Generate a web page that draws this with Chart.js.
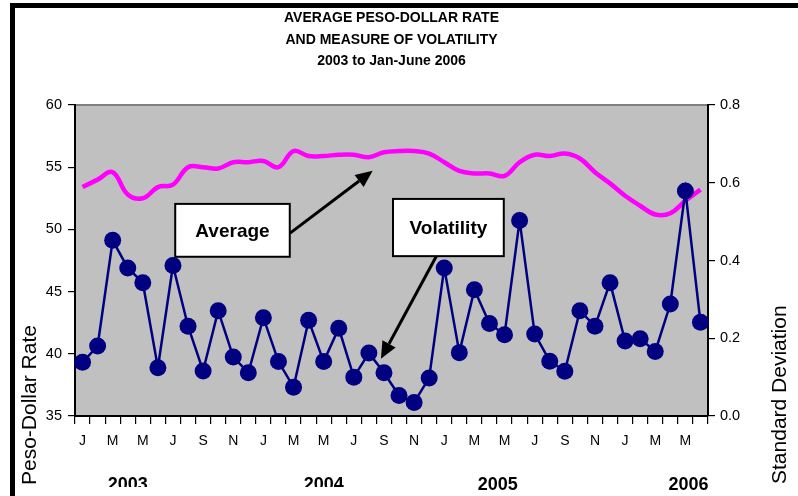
<!DOCTYPE html>
<html>
<head>
<meta charset="utf-8">
<script src="https://cdn.jsdelivr.net/npm/chart.js@4/dist/chart.umd.min.js"></script>
<style>
  html, body { margin: 0; padding: 0; background: #fff; overflow: hidden; }
  #wrap { position: relative; width: 798px; height: 496px; }
</style>
</head>
<body>
<div id="wrap"><canvas id="chart" width="798" height="496"></canvas></div>
<script>
// Month initials, January 2003 through June 2006
const monthLetters = ['J', 'F', 'M', 'A', 'M', 'J', 'J', 'A', 'S', 'O', 'N', 'D'];
const months = [...monthLetters, ...monthLetters, ...monthLetters, ...monthLetters.slice(0, 6)];

// Monthly average peso-dollar rate (left axis)
const averageRate = [
  53.4, 54.0, 54.6, 52.8, 52.5, 53.4, 53.6, 55.0, 55.0, 54.9, 55.4, 55.4,
  55.5, 55.0, 56.3, 55.9, 55.9, 56.0, 56.0, 55.8, 56.2, 56.3, 56.3, 56.1,
  55.4, 54.7, 54.5, 54.5, 54.3, 55.4, 56.0, 55.9, 56.1, 55.7, 54.6, 53.7,
  52.7, 51.9, 51.2, 51.3, 52.3, 53.2
];

// Monthly standard deviation of the rate (right axis)
const volatility = [
  0.138, 0.180, 0.452, 0.381, 0.343, 0.124, 0.387, 0.231, 0.116, 0.271, 0.152, 0.111,
  0.253, 0.140, 0.074, 0.246, 0.140, 0.226, 0.100, 0.162, 0.111, 0.053, 0.035, 0.098,
  0.381, 0.163, 0.325, 0.238, 0.209, 0.503, 0.211, 0.141, 0.115, 0.271, 0.231, 0.343,
  0.193, 0.199, 0.166, 0.288, 0.579, 0.241
];

const years = ['2003', '2004', '2005', '2006'];
const leftTicks = [35, 40, 45, 50, 55, 60];
const rightTicks = [0, 0.2, 0.4, 0.6, 0.8];
const titleLines = ['AVERAGE PESO-DOLLAR RATE', 'AND MEASURE OF VOLATILITY', '2003 to Jan-June 2006'];

const FONT = '"Liberation Sans", Arial, Helvetica, sans-serif';

// Where the year captions sit (month index) and whether their lower part is hidden
const yearPlacement = [
  { at: 3.0, cut: true },
  { at: 16.0, cut: true },
  { at: 27.55, cut: false },
  { at: 40.2, cut: false }
];

// Callout boxes and arrows, in (month index, left-axis value) coordinates
const callouts = [
  { text: 'Average', box: [6.15, 52.05, 13.75, 47.8], from: [13.77, 49.7], to: [19.25, 54.72] },
  { text: 'Volatility', box: [20.6, 52.45, 27.95, 47.85], from: [23.5, 47.9], to: [19.8, 39.6] }
];

const backdrop = {
  id: 'backdrop',
  beforeDraw(chart) {
    const { ctx, chartArea: a, width, height } = chart;
    ctx.save();
    ctx.fillStyle = '#ffffff';
    ctx.fillRect(0, 0, width, height);
    ctx.fillStyle = '#c0c0c0';
    ctx.fillRect(a.left, a.top, a.right - a.left, a.bottom - a.top);
    ctx.strokeStyle = '#808080';
    ctx.lineWidth = 2;
    ctx.beginPath();
    ctx.moveTo(a.left, a.top);
    ctx.lineTo(a.right, a.top);
    ctx.stroke();
    // outer frame
    ctx.fillStyle = '#000000';
    ctx.fillRect(10, 3, width - 10, 5);
    ctx.fillRect(10, 3, 5, height - 3);
    ctx.restore();
  }
};

const textLayer = {
  id: 'textLayer',
  afterDraw(chart) {
    const { ctx, chartArea: a, scales } = chart;
    ctx.save();
    ctx.fillStyle = '#000';
    // title
    ctx.font = 'bold 14px ' + FONT;
    ctx.textAlign = 'center';
    ctx.textBaseline = 'middle';
    const cx = (a.left + a.right) / 2;
    titleLines.forEach((t, i) => ctx.fillText(t, cx, 18.5 + i * 21.5));

    // axis titles
    ctx.font = '21px ' + FONT;
    ctx.textAlign = 'left';
    ctx.textBaseline = 'middle';
    ctx.save();
    ctx.translate(30, 485);
    ctx.rotate(-Math.PI / 2);
    ctx.fillText('Peso-Dollar Rate', 0, 0);
    ctx.restore();
    ctx.save();
    ctx.translate(780, 484);
    ctx.rotate(-Math.PI / 2);
    ctx.fillText('Standard Deviation', 0, 0);
    ctx.restore();

    // year captions
    ctx.font = 'bold 18px ' + FONT;
    ctx.textAlign = 'center';
    ctx.textBaseline = 'middle';
    years.forEach((y, i) => {
      const p = yearPlacement[i];
      const x = scales.x.getPixelForValue(p.at);
      ctx.save();
      if (p.cut) {
        ctx.beginPath();
        ctx.rect(x - 40, 460, 80, 27);
        ctx.clip();
      }
      ctx.fillText(y, x, 485);
      ctx.restore();
    });
    ctx.restore();
  }
};

const calloutLayer = {
  id: 'calloutLayer',
  afterDatasetsDraw(chart) {
    const { ctx, scales } = chart;
    const px = v => scales.x.getPixelForValue(v);
    const py = v => scales.y.getPixelForValue(v);
    ctx.save();
    callouts.forEach(c => {
      const x0 = px(c.from[0]), y0 = py(c.from[1]);
      const x1 = px(c.to[0]), y1 = py(c.to[1]);
      const ang = Math.atan2(y1 - y0, x1 - x0);
      const headLen = 17, headHalf = 7.5;
      const bx = x1 - headLen * Math.cos(ang), by = y1 - headLen * Math.sin(ang);
      ctx.strokeStyle = '#000';
      ctx.lineWidth = 3;
      ctx.beginPath();
      ctx.moveTo(x0, y0);
      ctx.lineTo(bx, by);
      ctx.stroke();
      ctx.fillStyle = '#000';
      ctx.beginPath();
      ctx.moveTo(x1, y1);
      ctx.lineTo(bx + headHalf * Math.sin(ang), by - headHalf * Math.cos(ang));
      ctx.lineTo(bx - headHalf * Math.sin(ang), by + headHalf * Math.cos(ang));
      ctx.closePath();
      ctx.fill();

      const l = px(c.box[0]), t = py(c.box[1]), r = px(c.box[2]), b = py(c.box[3]);
      ctx.fillStyle = '#fff';
      ctx.fillRect(l, t, r - l, b - t);
      ctx.lineWidth = 2;
      ctx.strokeRect(l, t, r - l, b - t);
      ctx.fillStyle = '#000';
      ctx.font = 'bold 19px ' + FONT;
      ctx.textAlign = 'center';
      ctx.textBaseline = 'middle';
      ctx.fillText(c.text, (l + r) / 2, (t + b) / 2 + 1);
    });
    ctx.restore();
  }
};

new Chart(document.getElementById('chart'), {
  type: 'line',
  data: {
    labels: months,
    datasets: [
      {
        label: 'Volatility',
        data: volatility,
        yAxisID: 'y1',
        borderColor: '#000080',
        backgroundColor: '#000080',
        borderWidth: 2.5,
        pointRadius: 8.5,
        pointHoverRadius: 8.5,
        pointBackgroundColor: '#000080',
        pointBorderColor: '#000080',
        pointBorderWidth: 0,
        tension: 0,
        clip: false,
        order: 0
      },
      {
        label: 'Average',
        data: averageRate,
        yAxisID: 'y',
        borderColor: '#ff00ff',
        borderWidth: 4.5,
        pointRadius: 0,
        pointHoverRadius: 0,
        tension: 0.4,
        fill: false,
        order: 1
      }
    ]
  },
  options: {
    responsive: false,
    animation: false,
    events: [],
    layout: { padding: { top: 105, left: 0, right: 0, bottom: 0 } },
    plugins: {
      legend: { display: false },
      tooltip: { enabled: false },
      title: { display: false }
    },
    scales: {
      x: {
        offset: true,
        grid: { offset: true, drawOnChartArea: false, drawTicks: true, tickLength: 8, color: '#000', lineWidth: 1.2 },
        border: { color: '#000', width: 2 },
        ticks: {
          autoSkip: false,
          maxRotation: 0,
          color: '#000',
          padding: 9,
          font: { family: FONT, size: 14 },
          callback: (v, i) => (i % 2 === 0 ? months[i] : '')
        },
        afterFit: s => { s.height = 80; }
      },
      y: {
        position: 'left',
        min: leftTicks[0],
        max: leftTicks[leftTicks.length - 1],
        afterBuildTicks: s => { s.ticks = leftTicks.map(v => ({ value: v })); },
        grid: { drawOnChartArea: false, drawTicks: true, tickLength: 7, color: '#000', lineWidth: 1.2 },
        border: { color: '#000', width: 2 },
        ticks: { color: '#000', padding: 6, font: { family: FONT, size: 14.5 } },
        afterFit: s => { s.width = 75; }
      },
      y1: {
        position: 'right',
        min: rightTicks[0],
        max: rightTicks[rightTicks.length - 1],
        afterBuildTicks: s => { s.ticks = rightTicks.map(v => ({ value: v })); },
        grid: { drawOnChartArea: false, drawTicks: true, tickLength: 7, color: '#000', lineWidth: 1.2 },
        border: { color: '#000', width: 2 },
        ticks: { color: '#000', padding: 5, font: { family: FONT, size: 14.5 }, callback: v => v.toFixed(1) },
        afterFit: s => { s.width = 90; }
      }
    }
  },
  plugins: [backdrop, calloutLayer, textLayer]
});
</script>
</body>
</html>
